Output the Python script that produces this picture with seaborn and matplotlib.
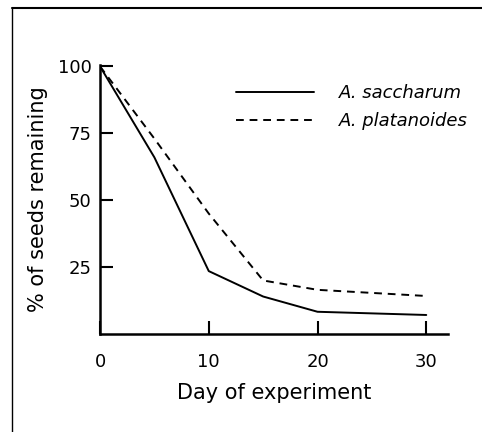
import matplotlib
matplotlib.use("Agg")
import matplotlib.pyplot as plt
from matplotlib.lines import Line2D
import seaborn as sns
import pandas as pd

days = [0, 5, 10, 15, 20, 30]
saccharum = [100, 66, 23.5, 14, 8.3, 7.1]
platanoides = [100, 73, 45, 20, 16.5, 14.2]
species = ["A. saccharum", "A. platanoides"]
xticks = [0, 10, 20, 30]
yticks = [25, 50, 75, 100]

df = pd.DataFrame({
    "day": days * 2,
    "pct": saccharum + platanoides,
    "species": [species[0]] * len(days) + [species[1]] * len(days),
})

sns.set_theme(style="ticks")
plt.rcParams["font.family"] = ["DejaVu Sans"]
plt.rcParams["text.color"] = "black"
plt.rcParams["axes.labelcolor"] = "black"
plt.rcParams["xtick.color"] = "black"
plt.rcParams["ytick.color"] = "black"

fig = plt.figure(figsize=(4.82, 4.32), dpi=100)
ax = fig.add_axes([0.2075, 0.2269, 0.722, 0.6225])

sns.lineplot(data=df, x="day", y="pct", style="species", color="black",
             dashes={species[0]: "", species[1]: (4, 3)}, linewidth=1.4,
             ax=ax, legend=False)

ax.set_xlim(0, 32)
ax.set_ylim(0, 100.5)
ax.set_xticks(xticks)
ax.set_yticks(yticks)
ax.set_xticklabels([str(t) for t in xticks], fontsize=13, color="black")
ax.set_yticklabels([str(t) for t in yticks], fontsize=13, color="black")
ax.tick_params(axis="both", direction="in", length=9.5, width=1.5,
               colors="black", labelcolor="black")
ax.tick_params(axis="x", pad=14)
ax.tick_params(axis="y", pad=6)
for s in ["top", "right"]:
    ax.spines[s].set_visible(False)
for s in ["left", "bottom"]:
    ax.spines[s].set_linewidth(1.8)
    ax.spines[s].set_color("black")

ax.set_xlabel("Day of experiment", fontsize=15, labelpad=8, color="black")
ax.set_ylabel("% of seeds remaining", fontsize=15, labelpad=7, color="black")

handles = [Line2D([], [], color="black", lw=1.4),
           Line2D([], [], color="black", lw=1.4, dashes=(4, 3))]
leg = fig.legend(handles, species, loc="upper left",
                 bbox_to_anchor=(236 / 482, 1 - 84 / 432), frameon=False,
                 prop={"size": 13, "style": "italic"}, handlelength=4.3,
                 handletextpad=1.4, borderpad=0, borderaxespad=0,
                 labelspacing=0.55, labelcolor="black")

fig.add_artist(Line2D([11.5 / 482, 11.5 / 482], [0, 1 - 8 / 432],
                      transform=fig.transFigure, color="black", lw=1))
fig.add_artist(Line2D([11.5 / 482, 1], [1 - 8 / 432, 1 - 8 / 432],
                      transform=fig.transFigure, color="black", lw=1.5))

fig.savefig("out.png", dpi=100)
